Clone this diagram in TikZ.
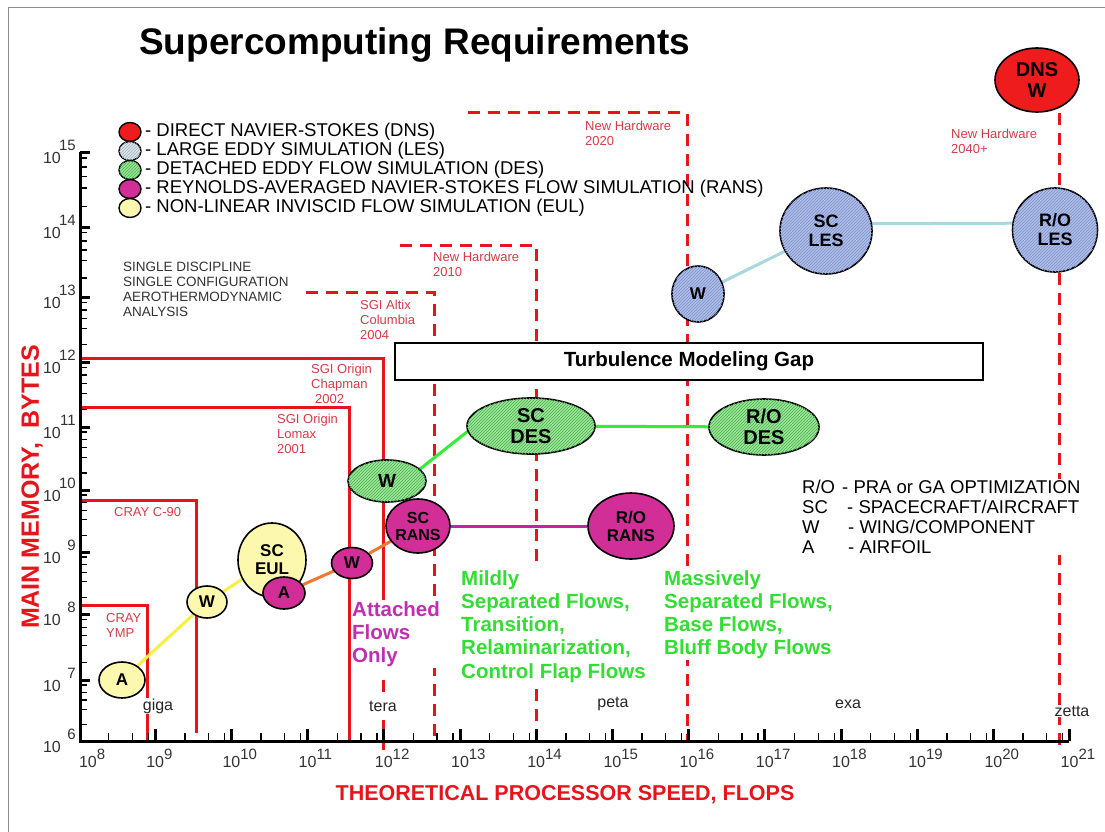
\documentclass[tikz,border=0pt]{standalone}
\usepackage{fontspec}
\setmainfont{Liberation Sans}
\setsansfont{Liberation Sans}
\usetikzlibrary{patterns,shapes.geometric}
\pgfdeclarelayer{bg}
\pgfdeclarelayer{mid}
\pgfsetlayers{bg,mid,main}
\definecolor{hwred}{HTML}{E8141C}
\definecolor{lblred}{HTML}{D63C48}
\definecolor{dnsred}{HTML}{EE1C1C}
\definecolor{lesfill}{HTML}{AFC0EC}
\definecolor{leshatch}{HTML}{7E8FC4}
\definecolor{leglesfill}{HTML}{DCE6EA}
\definecolor{leglesh}{HTML}{A0B4BC}
\definecolor{desfill}{HTML}{9BE69B}
\definecolor{deshatch}{HTML}{4CB04C}
\definecolor{ransfill}{HTML}{D22E98}
\definecolor{eulfill}{HTML}{FCF8AE}
\definecolor{txtgreen}{HTML}{33DD33}
\definecolor{txtmag}{HTML}{C02FB0}
\definecolor{lnblue}{HTML}{A8D8DE}
\definecolor{lngreen}{HTML}{33EE33}
\definecolor{lnorange}{HTML}{F07834}
\definecolor{lnmag}{HTML}{C424A4}
\definecolor{lnyellow}{HTML}{F4F044}
\definecolor{axgray}{HTML}{333333}
\newcommand\fsz[1]{\fontsize{#1}{#1}\selectfont}
\begin{document}
\begin{tikzpicture}[x=1pt,y=-1pt,
  blob/.style={ellipse, draw=black, line width=1.6pt, inner sep=0pt, align=center,
    font=\bfseries\fontsize{17}{18}\selectfont},
  eul/.style={blob, fill=eulfill},
  rans/.style={blob, fill=ransfill},
  des/.style={blob, fill=desfill, postaction={pattern=north east lines, pattern color=deshatch}},
  les/.style={blob, fill=lesfill, postaction={pattern=north east lines, pattern color=leshatch}},
  dns/.style={blob, fill=dnsred},
  sz/.style 2 args={minimum width=#1, minimum height=#2},
  hw/.style={draw=hwred, line width=3pt},
  hwd/.style={hw, dash pattern=on 12pt off 8pt},
  conn/.style={line width=3pt},
  mlab/.style={text=lblred, font=\fontsize{13}{15}\selectfont, align=left, anchor=north west, inner sep=0pt},
  leg/.style={anchor=west, inner sep=0pt, text=black, font=\fontsize{18.5}{19}\selectfont},
  legdot/.style={blob, minimum width=22pt, minimum height=19pt, line width=1.4pt},
  flowtxt/.style={anchor=north west, inner sep=1pt, fill=white, align=left, font=\bfseries\fontsize{20.5}{23.3}\selectfont},
  unit/.style={fill=white, inner sep=1pt, text=black!85, font=\fontsize{16}{16}\selectfont},
  major/.style={line width=3pt},
  minor/.style={line width=1.3pt},
  xlab/.style={anchor=north, inner sep=0pt, text=axgray, font=\fontsize{16}{16}\selectfont},
  ylab/.style={anchor=east, inner sep=0pt, text=axgray, font=\fontsize{16}{16}\selectfont},
  yexp/.style={anchor=east, inner sep=0pt, text=axgray, font=\fontsize{15}{15}\selectfont}
]
\useasboundingbox (0,0) rectangle (1105,832);
\begin{pgfonlayer}{bg}
\fill[white] (0,0) rectangle (1105,832);
\end{pgfonlayer}
\draw[black!45, line width=0.8pt] (8,832) -- (8,7) -- (1105,7);

% title
\node[anchor=west, inner sep=0pt, font=\bfseries\fontsize{37}{37}\selectfont] (title) at (139,45) {Supercomputing Requirements};

% ---------- hardware envelopes ----------
\begin{pgfonlayer}{bg}
\draw[hw] (80,605) -| (147,742);
\draw[hw] (80,500) -| (196,733);
\draw[hw] (80,407) -| (349,741);
\draw[hw] (80,358) -| (383,600);
\draw[hwd] (383,680) -- (383,750);
\draw[hwd] (306,292) -| (434,741);
\draw[hwd] (400,245) -| (536,741);
\draw[hwd] (468,113) -| (687,741);
\draw[hwd] (1059,113) -- (1059,748);
\end{pgfonlayer}

\node[mlab] (lymp) at (106,613) {CRAY\\YMP};
\node[mlab] (lc90) at (114,507) {CRAY C-90};
\node[mlab] (llomax) at (277,414) {SGI Origin\\Lomax\\2001};
\node[mlab] (lchap) at (311,364) {SGI Origin\\Chapman\\\hspace*{4pt}2002};
\node[mlab] (lcol) at (360,300) {SGI Altix\\Columbia\\2004};
\node[mlab] (l2010) at (433,252) {New Hardware\\2010};
\node[mlab] (l2020) at (585,121) {New Hardware\\2020};
\node[mlab] (l2040) at (951,129) {New Hardware\\2040+};

% ---------- axes ----------
\draw[line width=3pt] (80,152) -- (80,741) -- (1069,741);
\foreach \n in {9,...,21} {
  \draw[major] ({79+76.2*(\n-8)},741) -- ++(0,-12);
}
\foreach \n in {8,...,20} {
  \foreach \f in {0.39,0.70,0.91} {
    \draw[minor] ({79+76.2*(\n-8+\f)},741) -- ++(0,-8);
  }
}
\node[xlab] (x8) at (88,749) {10\rlap{\raisebox{8pt}{\fsz{15}8}}};
\foreach \n in {9,...,21} {
  \node[xlab] (x\n) at ({79+76.2*(\n-8)},749) {10\rlap{\raisebox{8pt}{\fsz{15}\n}}};
}
\foreach \d/\yy in {6/741,7/680,8/614,9/552,10/490,11/427,12/362,13/297,14/227,15/152} {
  \draw[major] (80,\yy) -- ++(10,0);
  \node[ylab] (y\d) at (61,\yy+6) {10};
  \node[yexp] (ye\d) at (76,\yy-7) {\d};
}
\foreach \lo/\up in {741/680,680/614,614/552,552/490,490/427,427/362,362/297,297/227,227/152} {
  \foreach \f in {0.08,0.2,0.33,0.48,0.73} {
    \draw[minor] (80,{\up+(\lo-\up)*\f}) -- ++(7,0);
  }
}
\node[rotate=90, text=hwred, font=\bfseries\fontsize{25}{25}\selectfont] (ylabel) at (32,487) {MAIN MEMORY,\ \ BYTES};
\node[text=hwred, font=\bfseries\fontsize{21.5}{21.5}\selectfont] (xlabel) at (565,795) {THEORETICAL PROCESSOR SPEED, FLOPS};

% unit labels (white background hides lines)
\node[unit] (giga) at (158,706) {giga};
\node[unit] (tera) at (383,706) {tera};
\node[unit] (peta) at (613,704) {peta};
\node[unit] (exa) at (848,704) {exa};
\node[unit] (zetta) at (1072,711) {zetta};

% ---------- legend ----------
\node[legdot, fill=dnsred] (lg1) at (130,132) {};
\node[legdot, fill=leglesfill, postaction={pattern=north east lines, pattern color=leglesh}] (lg2) at (130,151) {};
\node[legdot, fill=desfill, postaction={pattern=north east lines, pattern color=deshatch}] (lg3) at (130,170) {};
\node[legdot, fill=ransfill] (lg4) at (130,189) {};
\node[legdot, fill=eulfill] (lg5) at (130,208) {};
\node[leg] (lt1) at (145,132) {- DIRECT NAVIER-STOKES (DNS)};
\node[leg] (lt2) at (145,151) {- LARGE EDDY SIMULATION (LES)};
\node[leg] (lt3) at (145,170) {- DETACHED EDDY FLOW SIMULATION (DES)};
\node[leg] (lt4) at (145,189) {- REYNOLDS-AVERAGED NAVIER-STOKES FLOW SIMULATION (RANS)};
\node[leg] (lt5) at (145,208) {- NON-LINEAR INVISCID FLOW SIMULATION (EUL)};

\node[anchor=north west, inner sep=0pt, align=left, text=black!80, font=\fontsize{13.5}{14.8}\selectfont] (single) at (123,262)
  {SINGLE DISCIPLINE\\SINGLE CONFIGURATION\\AEROTHERMODYNAMIC\\ANALYSIS};

\node[anchor=north west, inner sep=1pt, fill=white, align=left, font=\fontsize{18.5}{20}\selectfont] (abbr) at (801,479)
  {\makebox[40pt][l]{R/O}- PRA or GA OPTIMIZATION\\
   \makebox[45pt][l]{SC}- SPACECRAFT/AIRCRAFT\\
   \makebox[46pt][l]{W}- WING/COMPONENT\\
   \makebox[46pt][l]{A}- AIRFOIL};

% ---------- turbulence gap ----------
\node[draw=black, line width=1.2pt, fill=white, minimum width=588pt, minimum height=37pt, inner sep=0pt,
  font=\bfseries\fontsize{20.5}{21}\selectfont] (gap) at (689,361.5) {Turbulence Modeling Gap};

% ---------- flow regime texts ----------
\node[flowtxt, text=txtmag] (attached) at (351,600) {Attached\\Flows\\Only};
\node[flowtxt, text=txtgreen] (mildly) at (460,569) {Mildly\\Separated Flows,\\Transition,\\Relaminarization,\\Control Flap Flows};
\node[flowtxt, text=txtgreen] (massive) at (663,569) {Massively\\Separated Flows,\\Base Flows,\\Bluff Body Flows};

% ---------- simulation ellipses ----------
\node[eul, sz={46pt}{36pt}] (aeul) at (122,680) {A};
\node[eul, sz={40pt}{32pt}] (weul) at (207,602) {W};
\node[eul, sz={68pt}{74pt}] (sceul) at (272,560) {SC\\EUL};
\node[rans, sz={42pt}{32pt}] (arans) at (284,593) {A};
\node[rans, sz={41pt}{31pt}] (wrans) at (352,563) {W};
\node[rans, sz={54pt}{54pt}, font=\bfseries\fontsize{16}{17}\selectfont] (scrans) at (418,526) {SC\\RANS};
\node[rans, sz={86pt}{66pt}, font=\bfseries\fontsize{17}{18}\selectfont] (rorans) at (631,526) {R/O\\RANS};
\node[des, sz={78pt}{42pt}, font=\bfseries\fontsize{19}{19}\selectfont] (wdes) at (387,481) {W};
\node[des, sz={128pt}{56pt}, font=\bfseries\fontsize{20}{21}\selectfont] (scdes) at (531,426) {SC\\DES};
\node[des, sz={110pt}{56pt}, font=\bfseries\fontsize{20}{21}\selectfont] (rodes) at (764,427) {R/O\\DES};
\node[les, sz={52pt}{56pt}] (wles) at (698,294) {W};
\node[les, sz={92pt}{86pt}, font=\bfseries\fontsize{18}{19}\selectfont] (scles) at (826,231) {SC\\LES};
\node[les, sz={85pt}{84pt}, font=\bfseries\fontsize{18}{19}\selectfont] (roles) at (1055,230) {R/O\\LES};
\node[dns, sz={84pt}{64pt}, font=\bfseries\fontsize{20}{21}\selectfont] (dnsw) at (1037,80) {DNS\\W};

% ---------- connectors ----------
\begin{pgfonlayer}{mid}
\draw[conn, lnyellow] (aeul) -- (weul);
\draw[conn, lnyellow] (weul) -- (sceul);
\draw[conn, lnorange] (arans) -- (wrans);
\draw[conn, lnorange] (wrans) -- (scrans);
\draw[conn, lnmag] (scrans) -- (rorans);
\draw[conn, lngreen] (wdes.20) -- (scdes.185);
\draw[conn, lngreen] (scdes) -- (rodes);
\draw[conn, lnblue] (wles) -- (scles);
\draw[conn, lnblue] (scles.9) -- (roles.171);
\end{pgfonlayer}
\end{tikzpicture}
\end{document}
